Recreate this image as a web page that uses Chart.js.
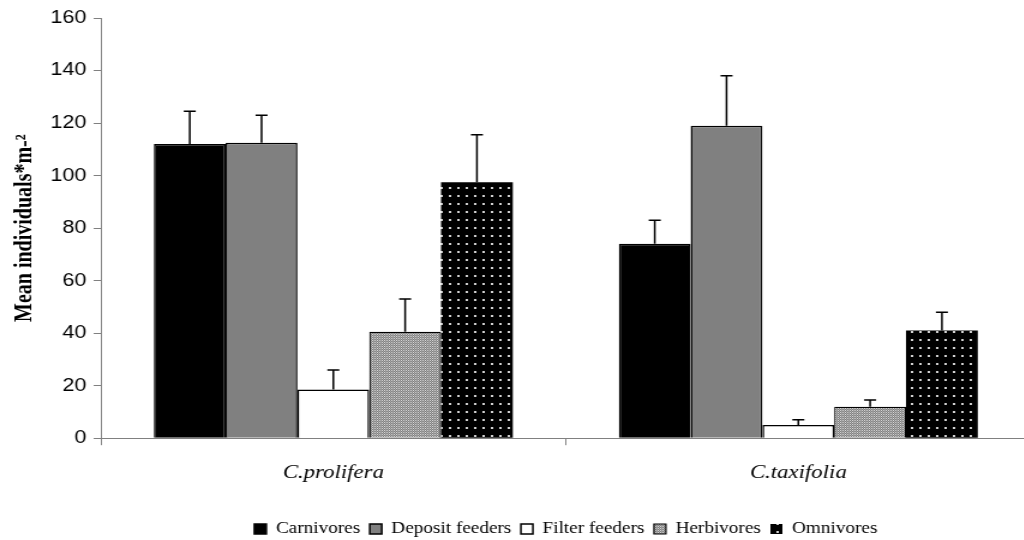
<!DOCTYPE html>
<html>
<head>
<meta charset="utf-8">
<script src="https://cdn.jsdelivr.net/npm/chart.js@4.4.1/dist/chart.umd.min.js"></script>
<style>
  html, body { margin: 0; padding: 0; background: #fff; overflow: hidden; }
  #clip { width: 1024px; height: 540px; overflow: hidden; }
  /* the original figure is stretched sideways, so the canvas is too */
  #wrap { width: 867px; height: 547px; transform: scaleX(1.2); transform-origin: 0 0; }
</style>
</head>
<body>
<div id="clip"><div id="wrap"><canvas id="chart" width="867" height="547"></canvas></div></div>
<script>
// data
const sites = ["C.prolifera", "C.taxifolia"];
const groups = ["Carnivores", "Deposit feeders", "Filter feeders", "Herbivores", "Omnivores"];
const carnivores = [112, 74];
const depositFeeders = [112.5, 119];
const filterFeeders = [18.5, 5];
const herbivores = [40.5, 12];
const omnivores = [97.5, 41];
// top of the (upper) error bars
const carnivoresErr = [124.5, 83];
const depositFeedersErr = [123, 138];
const filterFeedersErr = [26, 7];
const herbivoresErr = [53, 14.5];
const omnivoresErr = [115.5, 48];
const yTicks = [0, 20, 40, 60, 80, 100, 120, 140, 160];

function makePattern(w, h, draw) {
  const c = document.createElement("canvas");
  c.width = w; c.height = h;
  draw(c.getContext("2d"));
  return c.getContext("2d").createPattern(c, "repeat");
}

// fine grey checker for herbivores
const herbPattern = makePattern(2, 2, g => {
  g.fillStyle = "#7c7c7c"; g.fillRect(0, 0, 2, 2);
  g.fillStyle = "#dcdcdc"; g.fillRect(0, 0, 1, 1);
  g.fillStyle = "#a8a8a8"; g.fillRect(1, 1, 1, 1);
});
// black with white dots for omnivores
const omniPattern = makePattern(7, 8, g => {
  g.fillStyle = "#000"; g.fillRect(0, 0, 7, 8);
  g.fillStyle = "#d0d0d0"; g.fillRect(3, 3, 2, 2);
});

const errTops = [carnivoresErr, depositFeedersErr, filterFeedersErr, herbivoresErr, omnivoresErr];

const errorBars = {
  id: "errorBars",
  afterDatasetsDraw(chart) {
    const ctx = chart.ctx;
    const y = chart.scales.y;
    ctx.save();
    ctx.strokeStyle = "#000";
    ctx.lineWidth = 1.5;
    chart.data.datasets.forEach((ds, i) => {
      const meta = chart.getDatasetMeta(i);
      meta.data.forEach((bar, j) => {
        const top = y.getPixelForValue(errTops[i][j]);
        const x = bar.x;
        ctx.beginPath();
        ctx.moveTo(x, bar.y);
        ctx.lineTo(x, top);
        ctx.moveTo(x - 5, top);
        ctx.lineTo(x + 5, top);
        ctx.stroke();
      });
    });
    ctx.restore();
  }
};

const ctx = document.getElementById("chart").getContext("2d");
new Chart(ctx, {
  type: "bar",
  data: {
    labels: sites,
    datasets: [
      { label: groups[0], data: carnivores, backgroundColor: "#000", borderColor: "#000", borderWidth: 1.5 },
      { label: groups[1], data: depositFeeders, backgroundColor: "#808080", borderColor: "#000", borderWidth: 1.5 },
      { label: groups[2], data: filterFeeders, backgroundColor: "#fff", borderColor: "#000", borderWidth: 1.5 },
      { label: groups[3], data: herbivores, backgroundColor: herbPattern, borderColor: "#000", borderWidth: 1.2 },
      { label: groups[4], data: omnivores, backgroundColor: omniPattern, borderColor: "#000", borderWidth: 0 },
    ],
  },
  options: {
    responsive: false,
    animation: false,
    layout: { padding: { top: 18, right: 8, left: 1, bottom: 0 } },
    datasets: { bar: { categoryPercentage: 0.772, barPercentage: 1 } },
    scales: {
      x: {
        offset: true,
        grid: { offset: true, drawOnChartArea: false, color: "#808080", tickLength: 7 },
        border: { color: "#808080", width: 1 },
        ticks: {
          color: "#000",
          padding: 16,
          font: { family: "'Liberation Serif', 'Times New Roman', serif", size: 19, style: "italic" },
        },
        afterFit: scale => { scale.height += 13; },
      },
      y: {
        min: 0,
        max: 160,
        afterBuildTicks: axis => { axis.ticks = yTicks.map(v => ({ value: v })); },
        grid: { drawOnChartArea: false, color: "#808080", tickLength: 6 },
        border: { color: "#808080", width: 1 },
        ticks: {
          color: "#000",
          padding: 6,
          font: { family: "'Liberation Sans', Arial, sans-serif", size: 18 },
        },
        title: {
          display: true,
          text: "Mean individuals*m-²",
          color: "#000",
          padding: { top: 8, bottom: 3 },
          font: { family: "'Liberation Serif', 'Times New Roman', serif", size: 20, weight: "bold" },
        },
      },
    },
    plugins: {
      legend: {
        position: "bottom",
        fullSize: false,
        labels: {
          boxWidth: 10,
          boxHeight: 10,
          padding: 8,
          color: "#000",
          font: { family: "'Liberation Serif', 'Times New Roman', serif", size: 16 },
        },
      },
      tooltip: { enabled: false },
    },
  },
  plugins: [errorBars],
});
</script>
</body>
</html>
